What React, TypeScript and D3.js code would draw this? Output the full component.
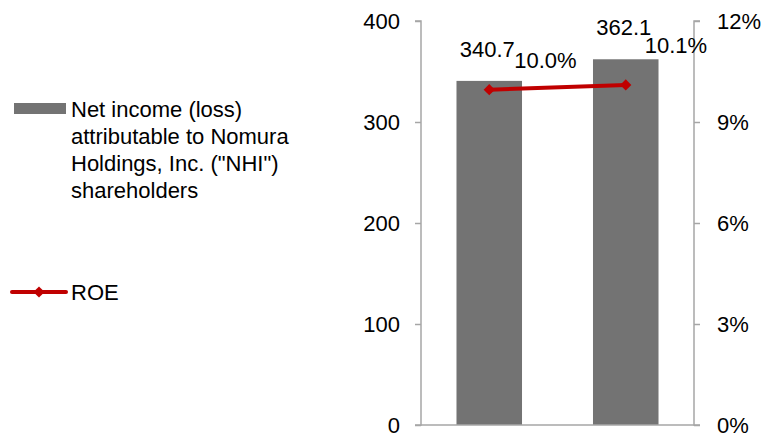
import * as d3 from "d3";
import React from "react";

const categories = ["FY1", "FY2"];
const netIncome = [340.7, 362.1];
const roe = [9.96, 10.1];
const leftTicks = [0, 100, 200, 300, 400];
const rightTicks = [0, 3, 6, 9, 12];
const incomeLegend = [
  "Net income (loss)",
  "attributable to Nomura",
  'Holdings, Inc. ("NHI")',
  "shareholders",
];
const roeLegend = "ROE";

const App = () => {
  const ref = React.useRef<SVGSVGElement | null>(null);

  const width = 762;
  const height = 433;
  const plot = { left: 421, right: 694, top: 21, bottom: 425 };
  const font = "'Liberation Sans', Arial, sans-serif";
  const fs = 22;
  const barColor = "#737373";
  const lineColor = "#C00000";
  const axisColor = "#A6A6A6";

  const drawElm = (node: SVGSVGElement) => {
    const svg = d3.select(node).attr("width", width).attr("height", height);
    svg.selectAll("*").remove();

    const x = d3
      .scaleBand<string>()
      .domain(categories)
      .range([plot.left, plot.right])
      .paddingInner(0.52)
      .paddingOuter(0.26);

    const yLeft = d3.scaleLinear().domain([0, 400]).range([plot.bottom, plot.top]);
    const yRight = d3.scaleLinear().domain([0, 12]).range([plot.bottom, plot.top]);

    // bars
    svg
      .append("g")
      .selectAll("rect")
      .data(netIncome)
      .join("rect")
      .attr("x", (_, i) => x(categories[i])!)
      .attr("y", (d) => yLeft(d))
      .attr("width", x.bandwidth())
      .attr("height", (d) => plot.bottom - yLeft(d))
      .attr("fill", barColor);

    // axes
    const gl = svg.append("g").attr("transform", `translate(${plot.left},0)`);
    gl.call(d3.axisLeft(yLeft).tickValues(leftTicks).tickSize(6).tickPadding(15).tickFormat(d3.format("d")));
    const gr = svg.append("g").attr("transform", `translate(${plot.right},0)`);
    gr.call(d3.axisRight(yRight).tickValues(rightTicks).tickSize(6).tickPadding(17).tickFormat((d) => `${d}%`));
    [gl, gr].forEach((g) => {
      g.select(".domain").attr("stroke", axisColor).attr("stroke-width", 1.5);
      g.selectAll(".tick line").attr("stroke", axisColor).attr("stroke-width", 1.5);
      g.selectAll(".tick text")
        .attr("fill", "#000")
        .attr("font-size", fs)
        .attr("font-family", font);
    });
    gl.selectAll(".domain").attr("d", `M-6,${plot.top}H0V${plot.bottom}H-6`);
    gr.selectAll(".domain").attr("d", `M6,${plot.top}H0V${plot.bottom}H6`);

    svg
      .append("line")
      .attr("x1", plot.left)
      .attr("x2", plot.right)
      .attr("y1", plot.bottom)
      .attr("y2", plot.bottom)
      .attr("stroke", axisColor)
      .attr("stroke-width", 1.5);

    // bar labels
    svg
      .append("g")
      .selectAll("text")
      .data(netIncome)
      .join("text")
      .text((d) => d.toFixed(1))
      .attr("x", (_, i) => x(categories[i])! + x.bandwidth() / 2 - 2)
      .attr("y", (d) => yLeft(d) - 24)
      .attr("text-anchor", "middle")
      .attr("font-size", fs)
      .attr("font-family", font)
      .attr("fill", "#000");

    // ROE line
    const cx = (i: number) => x(categories[i])! + x.bandwidth() / 2;
    const line = d3
      .line<number>()
      .x((_, i) => cx(i))
      .y((d) => yRight(d));
    svg
      .append("path")
      .attr("d", line(roe))
      .attr("fill", "none")
      .attr("stroke", lineColor)
      .attr("stroke-width", 4);

    const diamond = d3.symbol().type(d3.symbolDiamond2).size(80);
    svg
      .append("g")
      .selectAll("path")
      .data(roe)
      .join("path")
      .attr("d", diamond)
      .attr("transform", (d, i) => `translate(${cx(i)},${yRight(d)})`)
      .attr("fill", lineColor);

    const roeLabelOffset = [
      { dx: 25, dy: -22 },
      { dx: 19, dy: -32 },
    ];
    svg
      .append("g")
      .selectAll("text")
      .data(roe)
      .join("text")
      .text((d) => `${d.toFixed(1)}%`)
      .attr("x", (_, i) => cx(i) + roeLabelOffset[i].dx)
      .attr("y", (d, i) => yRight(d) + roeLabelOffset[i].dy)
      .attr("font-size", fs)
      .attr("font-family", font)
      .attr("fill", "#000");

    // legend
    const lg = svg.append("g");
    lg.append("rect").attr("x", 14).attr("y", 103).attr("width", 52).attr("height", 11).attr("fill", barColor);
    lg.append("text")
      .attr("font-size", fs)
      .attr("font-family", font)
      .attr("fill", "#000")
      .selectAll("tspan")
      .data(incomeLegend)
      .join("tspan")
      .attr("x", 71)
      .attr("y", (_, i) => 117 + i * 27)
      .text((d) => d);

    lg.append("line")
      .attr("x1", 12)
      .attr("x2", 66)
      .attr("y1", 292)
      .attr("y2", 292)
      .attr("stroke", lineColor)
      .attr("stroke-width", 4)
      .attr("stroke-linecap", "round");
    lg.append("path").attr("d", diamond).attr("transform", "translate(39,292)").attr("fill", lineColor);
    lg.append("text")
      .attr("x", 71)
      .attr("y", 300)
      .attr("font-size", fs)
      .attr("font-family", font)
      .attr("fill", "#000")
      .text(roeLegend);
  };

  React.useEffect(() => {
    if (ref.current) drawElm(ref.current);
  });

  return (
    <svg
      ref={ref}
      width={width}
      height={height}
      style={{ position: "absolute", left: 0, top: 0, background: "#fff" }}
    />
  );
};

export default App;
